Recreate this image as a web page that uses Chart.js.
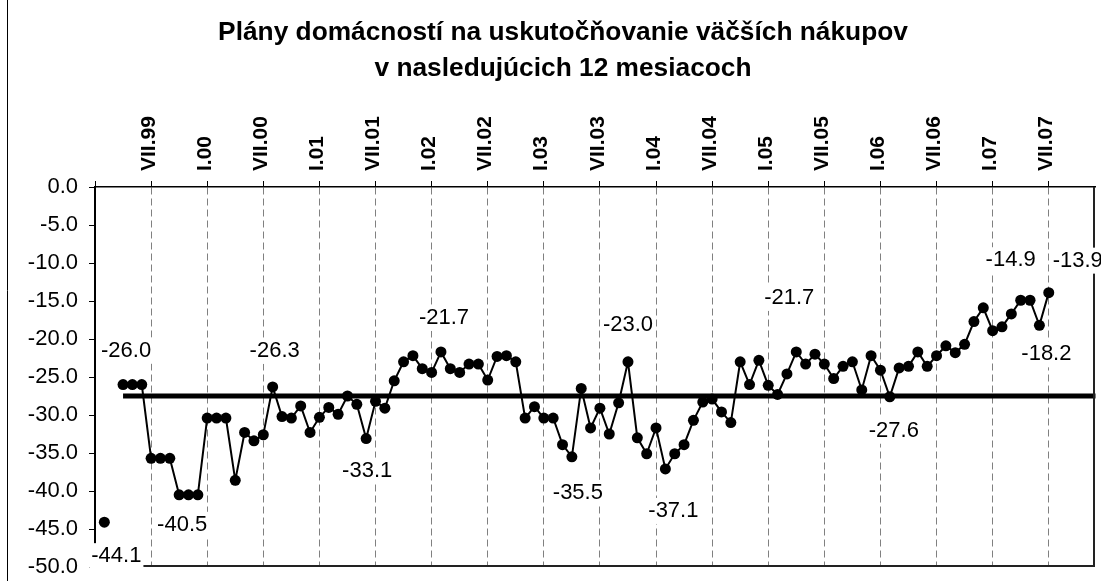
<!DOCTYPE html>
<html lang="sk">
<head>
<meta charset="UTF-8">
<title>Plány domácností na uskutočňovanie väčších nákupov</title>
<script src="https://cdn.jsdelivr.net/npm/chart.js"></script>
<style>
  html, body { margin: 0; padding: 0; background: #fff; overflow: hidden; }
  canvas { display: block; }
</style>
</head>
<body>
<canvas id="myChart" width="1101" height="581"></canvas>
<script>
// months and years of the category axis (I.99 ... XII.07)
const monthNames = ['I', 'II', 'III', 'IV', 'V', 'VI', 'VII', 'VIII', 'IX', 'X', 'XI', 'XII'];
const years = ['99', '00', '01', '02', '03', '04', '05', '06', '07'];

const labels = [];
years.forEach(y => monthNames.forEach(m => labels.push(m + '.' + y)));

// balance of answers, one row per year (I..XII)
const plans = [
  null, -44.1, null, -26.0, -26.0, -26.0, -35.7, -35.7, -35.7, -40.5, -40.5, -40.5,
  -30.4, -30.4, -30.4, -38.6, -32.3, -33.4, -32.6, -26.3, -30.2, -30.4, -28.8, -32.3,
  -30.3, -29.0, -29.9, -27.5, -28.6, -33.1, -28.2, -29.1, -25.5, -23.0, -22.2, -23.9,
  -24.4, -21.7, -23.9, -24.4, -23.3, -23.3, -25.4, -22.3, -22.2, -23.0, -30.4, -28.9,
  -30.4, -30.4, -33.9, -35.5, -26.5, -31.7, -29.1, -32.5, -28.4, -23.0, -33.0, -35.1,
  -31.7, -37.1, -35.1, -33.9, -30.7, -28.3, -27.9, -29.6, -31.0, -23.0, -26.0, -22.8,
  -26.1, -27.3, -24.6, -21.7, -23.3, -22.0, -23.3, -25.2, -23.6, -23.0, -26.7, -22.2,
  -24.1, -27.6, -23.8, -23.6, -21.7, -23.6, -22.2, -20.9, -21.8, -20.7, -17.7, -15.9,
  -18.9, -18.4, -16.7, -14.9, -14.9, -18.2, -13.9, null, null, null, null, null
];

// long-term average, drawn from IV.99 to the right edge
const average = -27.5;
const averageFrom = 'IV.99';
const averageTo = 'XII.07';

const yTicks = { min: -50, max: 0, step: 5 };

const titleLines = ['Plány domácností na uskutočňovanie väčších nákupov', 'v nasledujúcich 12 mesiacoch'];

// points that carry a value label (index, offset of the label from the point)
const valueTags = [
  { i: 1, dx: 12, dy: 33 },
  { i: 3, dx: 3, dy: -35 },
  { i: 9, dx: 3, dy: 29 },
  { i: 19, dx: 2, dy: -37 },
  { i: 29, dx: 1, dy: 31 },
  { i: 37, dx: 3, dy: -35 },
  { i: 51, dx: 6, dy: 35 },
  { i: 57, dx: 0, dy: -38 },
  { i: 61, dx: 8, dy: 41 },
  { i: 75, dx: -7, dy: -55 },
  { i: 85, dx: 4, dy: 33 },
  { i: 99, dx: -10, dy: -41 },
  { i: 101, dx: 7, dy: 28 },
  { i: 102, dx: 29, dy: -33 }
];

const avgData = labels.map(l => (l === averageFrom || l === averageTo) ? average : null);

const FONT = '"Liberation Sans", Arial, sans-serif';
const isGrid = i => i > 0 && i % 6 === 0 && i < labels.length - 1;

const frame = {
  id: 'frame',
  beforeDraw(chart) {
    const c = chart.ctx;
    c.save();
    c.fillStyle = '#fff';
    c.fillRect(0, 0, chart.width, chart.height);
    // outer chart frame (left edge)
    c.strokeStyle = '#000';
    c.lineWidth = 1;
    c.beginPath();
    c.moveTo(7.5, 0);
    c.lineTo(7.5, chart.height);
    c.stroke();
    // title
    c.fillStyle = '#000';
    c.font = 'bold 26.3px ' + FONT;
    c.textAlign = 'center';
    c.textBaseline = 'middle';
    c.fillText(titleLines[0], 563, 33);
    c.fillText(titleLines[1], 563, 69);
    c.restore();
  },
  afterDraw(chart) {
    const a = chart.chartArea;
    const c = chart.ctx;
    c.save();
    // plot area border, right and bottom
    c.setLineDash([]);
    c.strokeStyle = '#222';
    c.lineWidth = 2;
    c.beginPath();
    c.moveTo(a.right - 1.5, a.top);
    c.lineTo(a.right - 1.5, a.bottom - 1);
    c.lineTo(a.left, a.bottom - 1);
    c.stroke();

    // value labels on a white box
    const meta = chart.getDatasetMeta(0);
    c.font = '22px ' + FONT;
    c.textAlign = 'center';
    c.textBaseline = 'middle';
    valueTags.forEach(t => {
      const pt = meta.data[t.i];
      const x = pt.x + t.dx, y = pt.y + t.dy;
      const txt = plans[t.i].toFixed(1);
      const w = c.measureText(txt).width;
      c.fillStyle = '#fff';
      c.fillRect(x - w / 2 - 2, y - 12, w + 4, 26);
      c.fillStyle = '#000';
      c.fillText(txt, x, y + 1);
    });
    c.restore();
  }
};

new Chart(document.getElementById('myChart'), {
  type: 'line',
  data: {
    labels,
    datasets: [
      {
        label: 'Plány',
        data: plans,
        borderColor: '#000',
        borderWidth: 2,
        pointRadius: 5.5,
        pointBackgroundColor: '#000',
        pointBorderColor: '#000',
        pointBorderWidth: 0,
        spanGaps: false,
        tension: 0
      },
      {
        label: 'Priemer',
        data: avgData,
        borderColor: '#000',
        borderWidth: 5,
        pointRadius: 0,
        spanGaps: true
      }
    ]
  },
  options: {
    responsive: false,
    animation: false,
    layout: { padding: { left: 8, right: 5, top: 88, bottom: 14 } },
    plugins: {
      legend: { display: false },
      tooltip: { enabled: false },
      title: { display: false }
    },
    scales: {
      x: {
        position: 'top',
        offset: false,
        grid: {
          color: c => isGrid(c.index) ? '#808080' : 'rgba(0,0,0,0)',
          tickColor: c => c.index % 6 === 0 && c.index < labels.length - 1 ? '#000' : 'rgba(0,0,0,0)',
          lineWidth: 1,
          tickLength: 6
        },
        border: { display: true, color: '#000', width: 1.5, dash: [7, 4] },
        ticks: {
          autoSkip: false,
          minRotation: 90,
          maxRotation: 90,
          padding: 10,
          labelOffset: 23,
          color: '#000',
          font: { family: FONT, size: 21, weight: 'bold' },
          callback: function (v, i) { return isGrid(i) ? this.getLabelForValue(v) : ''; }
        },
        afterFit(s) { s.height = 99; s.paddingLeft = 0; s.paddingRight = 0; }
      },
      y: {
        min: yTicks.min,
        max: yTicks.max,
        grid: { drawOnChartArea: false, drawTicks: true, tickLength: 6, tickColor: '#000' },
        border: { display: true, color: '#000', width: 2 },
        ticks: {
          stepSize: yTicks.step,
          padding: 11,
          color: '#000',
          font: { family: FONT, size: 22 },
          callback: v => v.toFixed(1)
        },
        afterFit(s) { s.width = 87; s.paddingTop = 0; s.paddingBottom = 0; }
      }
    }
  },
  plugins: [frame]
});
</script>
</body>
</html>
